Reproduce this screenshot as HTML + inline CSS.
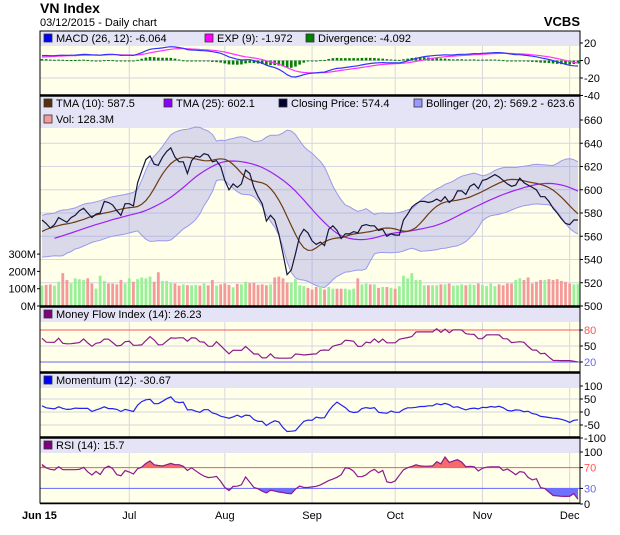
<!DOCTYPE html>
<html><head><meta charset="utf-8"><style>
body{margin:0;background:#fff;}
svg{display:block;font-family:"Liberation Sans",sans-serif;}
</style></head><body>
<svg id="c" width="620" height="535" xmlns="http://www.w3.org/2000/svg"></svg>
<script>
const closes=[574,571,567,570,576,574,572,576,578,582,584,580,576,579,580,590,589,587,582,578,588,588,586,606,616,626,629,622,621,628,633,636,628,624,624,614,625,629,628,631,630,624,625,620,608,600,605,602,605,617,614,602,594,588,573,578,574,562,545,527,531,545,560,566,563,556,553,555,552,566,569,565,558,562,562,564,563,569,570,569,569,565,566,560,562,561,561,574,579,585,588,590,590,589,590,592,590,594,589,592,599,599,596,603,605,601,608,609,611,613,611,608,605,603,604,610,606,604,602,600,594,594,590,584,580,575,571,570,574,574];
const priorCloses=[548,552,550,555,553,558,556,560,562,565,563,568,570,566];
const volumes=[118,122,125,118,140,190,150,130,160,155,150,160,130,100,175,145,130,130,125,150,130,160,140,155,165,160,170,140,195,145,145,135,130,118,125,120,120,122,118,130,120,150,118,125,130,122,108,128,125,140,132,135,122,125,120,125,165,170,160,135,135,155,120,115,105,95,110,115,95,110,100,100,100,100,95,100,160,125,130,125,125,105,110,110,105,100,115,175,160,190,150,150,120,120,120,120,125,125,130,118,120,125,120,125,122,130,122,115,130,115,125,120,130,130,150,160,150,165,130,140,150,150,155,150,155,145,140,130,125,128];
const monthLabels=["Jun 15","Jul","Aug","Sep","Oct","Nov","Dec"];
const monthStartIdx=[0,21,44,65,85,106,127];
const priceTicks=[500,520,540,560,580,600,620,640,660];
const volTicks=[0,100,200,300];
const macdTicks=[20,0,-20,-40];
const mfiTicks=[80,50,20];
const momTicks=[100,50,0,-50,-100];
const rsiTicks=[100,70,30,0];

const svg=document.getElementById('c');
const NS='http://www.w3.org/2000/svg';
function mk(tag,at,parent){const e=document.createElementNS(NS,tag);for(const k in at)e.setAttribute(k,at[k]);(parent||svg).appendChild(e);return e;}
function tx(str,x,y,at){const e=mk('text',Object.assign({x:x,y:y,'font-size':11,fill:'#000'},at||{}));e.textContent=str;return e;}

const L=40,R=580,N=closes.length;
const xs=i=>L+2+i*(R-L-4)/(N-1);
const P={macd:[31,95],main:[96,306],mfi:[307,372],mom:[373,437],rsi:[438,503]};
const yPrice=p=>306-(p-500)*1.1625;
const yVol=v=>306-v*0.173;
const yMacd=v=>60.5-v*0.875;
const yMfi=v=>362-(v-20)*0.533;
const yMom=v=>412-v*0.26;
const yRsi=v=>504-v*0.52;

// indicators computed with prior history
const all=priorCloses.concat(closes);const off=priorCloses.length;
const allVol=priorCloses.map(()=>120).concat(volumes);
function sma(a,n){return a.map((_,i)=>{const s=Math.max(0,i-n+1);let t=0;for(let j=s;j<=i;j++)t+=a[j];return t/(i-s+1);});}
function ema(a,n){const k=2/(n+1);const o=[];a.forEach((v,i)=>o.push(i?o[i-1]+k*(v-o[i-1]):v));return o;}
const cut=a=>a.slice(off);
const tma10=cut(sma(sma(all,5),6));
const tma25=cut(sma(sma(all,13),13));
const midA=sma(all,20);
const sdA=all.map((_,i)=>{const s=Math.max(0,i-19);let t=0;for(let j=s;j<=i;j++)t+=(all[j]-midA[i])**2;return Math.sqrt(t/(i-s+1));});
const up=cut(midA.map((m,i)=>m+2*Math.max(sdA[i],7)+3)),lo=cut(midA.map((m,i)=>m-2*Math.max(sdA[i],7)-3));
const e12=ema(all,12),e26=ema(all,26);
const macdA=all.map((_,i)=>e12[i]-e26[i]);
const sigA=ema(macdA,9);
const macd=cut(macdA),sig=cut(sigA);
const mom=closes.map((c,i)=>c-all[i+off-12]);
const rsi=cut(all.map((_,i)=>{let g=0,l=0;for(let j=Math.max(1,i-13);j<=i;j++){const d=all[j]-all[j-1];if(d>0)g+=d;else l-=d;}if(g+l===0)return 50;return 100*g/(g+l);}));
const mfi=cut(all.map((_,i)=>{let g=0,l=0;for(let j=Math.max(1,i-13);j<=i;j++){const f=all[j]*allVol[j];if(all[j]>=all[j-1])g+=f;else l+=f;}if(g+l===0)return 50;return 100*g/(g+l);}));

// titles
let t=tx('VN Index',40,13,{'font-size':14,'font-weight':'bold'});
t=tx('03/12/2015 - Daily chart',40,26,{'font-size':11});
t=tx('VCBS',580,26,{'font-size':13,'font-weight':'bold','text-anchor':'end'});

const headerH={macd:15,main:32,mfi:15,mom:15,rsi:15};
for(const k in P){const [a,b]=P[k];
 const g=mk('g',{});
 mk('rect',{x:L,y:a,width:R-L,height:b-a,fill:'#ffffea'},g);
 mk('rect',{x:L,y:a,width:R-L,height:headerH[k],fill:'#e4e4f6'},g);
 monthStartIdx.slice(1).forEach(i=>mk('line',{x1:xs(i),x2:xs(i),y1:a+headerH[k],y2:b,stroke:'#d6d6e0'},g));
}
function hgrid(ticks,yf,panel,colors){const [a,b]=P[panel];ticks.forEach(v=>{const y=yf(v);const c=(colors&&colors[v])||'#d6d6e0';if(y>a+headerH[panel]-1&&y<b)mk('line',{x1:L,x2:R,y1:y,y2:y,stroke:c});
 const lb=tx(String(v),584,y+4,{fill:(colors&&colors[v])?colors[v]:'#000'});
 mk('line',{x1:R,x2:R+3,y1:y,y2:y,stroke:'#000'});});}
hgrid(macdTicks,yMacd,'macd');
hgrid(priceTicks,yPrice,'main');
hgrid(mfiTicks,yMfi,'mfi',{80:'#ff5555',20:'#6666ff'});
hgrid(momTicks,yMom,'mom');
hgrid(rsiTicks,yRsi,'rsi',{70:'#ff5555',30:'#6666ff'});
volTicks.forEach(v=>{const lb=tx(v+'M',36,yVol(v)+4,{'text-anchor':'end'});mk('line',{x1:L-3,x2:L,y1:yVol(v),y2:yVol(v),stroke:'#000'});});

function path(arr,xf,yf,start){return arr.map((v,i)=>i<start?'':((i===start?'M':'L')+xf(i).toFixed(1)+','+yf(v).toFixed(1))).join('');}
const divs=macd.map((m,i)=>m-sig[i]);
divs.forEach((d,i)=>{const r=mk('rect',{x:xs(i)-1.3,y:Math.min(yMacd(0),yMacd(d)),width:2.6,height:Math.max(1,Math.abs(yMacd(d)-yMacd(0))),fill:'#008000'});});
let p=mk('path',{d:path(sig,xs,yMacd,0),stroke:'#ff33ff',fill:'none','stroke-width':1.2});
p=mk('path',{d:path(macd,xs,yMacd,0),stroke:'#3333ff',fill:'none','stroke-width':1.2});

let bd=path(up,xs,yPrice,0)+closes.map((_,k)=>{const i=N-1-k;return 'L'+xs(i).toFixed(1)+','+yPrice(lo[i]).toFixed(1);}).join('')+'Z';
p=mk('path',{d:bd,fill:'rgba(140,140,230,0.33)',stroke:'none'});
mk('path',{d:path(up,xs,yPrice,0),fill:'none',stroke:'#9999ee'});mk('path',{d:path(lo,xs,yPrice,0),fill:'none',stroke:'#9999ee'});
volumes.slice(0,N).forEach((v,i)=>{const upd=i===0||closes[i]>=closes[i-1];const r=mk('rect',{x:xs(i)-1.4,y:yVol(v),width:2.8,height:306-yVol(v),fill:upd?'#99f099':'#f59a9a'});});
p=mk('path',{d:path(tma25,xs,yPrice,3),stroke:'#a020f0',fill:'none','stroke-width':1.2});
p=mk('path',{d:path(tma10,xs,yPrice,0),stroke:'#6b3a10',fill:'none','stroke-width':1.2});
p=mk('path',{d:path(closes,xs,yPrice,0),stroke:'#14143c',fill:'none','stroke-width':1.2});

function bandFill(arr,yf,lvl,above,color,name){let d='';arr.forEach((v,i)=>{if(i===0)return;const a=arr[i-1];const c1=above?Math.max(a,lvl):Math.min(a,lvl),c2=above?Math.max(v,lvl):Math.min(v,lvl);
 d+='M'+xs(i-1).toFixed(1)+','+yf(lvl).toFixed(1)+'L'+xs(i-1).toFixed(1)+','+yf(c1).toFixed(1)+'L'+xs(i).toFixed(1)+','+yf(c2).toFixed(1)+'L'+xs(i).toFixed(1)+','+yf(lvl).toFixed(1)+'Z';});
 const e=mk('path',{d:d,fill:color});}
bandFill(mfi,yMfi,20,false,'#7070ff','mfi-oversold-fill');
p=mk('path',{d:path(mfi,xs,yMfi,0),stroke:'#8b1a8b',fill:'none','stroke-width':1.2});
p=mk('path',{d:path(mom,xs,yMom,0),stroke:'#2222ee',fill:'none','stroke-width':1.2});
bandFill(rsi,yRsi,70,true,'#f56a6a','rsi-overbought-fill');
bandFill(rsi,yRsi,30,false,'#7070ff','rsi-oversold-fill');
p=mk('path',{d:path(rsi,xs,yRsi,0),stroke:'#8b1a8b',fill:'none','stroke-width':1.2});

function leg(x,y,color,label,name){const g=mk('g',{});
 mk('rect',{x:x,y:y-8,width:8,height:8,fill:color,stroke:'#333','stroke-width':0.8},g);const e=tx(label,x+12,y,{});g.appendChild(e);}
leg(44,42,'#0000ff','MACD (26, 12): -6.064','legend-macd');
leg(205,42,'#ff00ff','EXP (9): -1.972','legend-exp');
leg(306,42,'#008000','Divergence: -4.092','legend-divergence');
leg(44,107,'#5a2d0c','TMA (10): 587.5','legend-tma10');
leg(164,107,'#8b00ff','TMA (25): 602.1','legend-tma25');
leg(279,107,'#000033','Closing Price: 574.4','legend-closing-price');
leg(414,107,'#9999ff','Bollinger (20, 2): 569.2 - 623.6','legend-bollinger');
leg(44,123,'#f59a9a','Vol: 128.3M','legend-volume');
leg(44,318,'#800080','Money Flow Index (14): 26.23','legend-mfi');
leg(44,384,'#0000ff','Momentum (12): -30.67','legend-momentum');
leg(44,449,'#800080','RSI (14): 15.7','legend-rsi');

mk('rect',{x:L,y:31,width:R-L,height:503-31,fill:'none',stroke:'#000'});
[95.5,306.5,372.5,437.5].forEach(y=>mk('line',{x1:L,x2:R,y1:y,y2:y,stroke:'#000','stroke-width':2.5}));
mk('line',{x1:L,x2:R,y1:503.5,y2:503.5,stroke:'#000','stroke-width':1.5});

monthLabels.forEach((m,k)=>{const i=monthStartIdx[k];const e=k===0?tx(m,22,519,{'font-weight':'bold'}):tx(m,xs(i),519,{'text-anchor':'middle'});});
</script>
</body></html>
